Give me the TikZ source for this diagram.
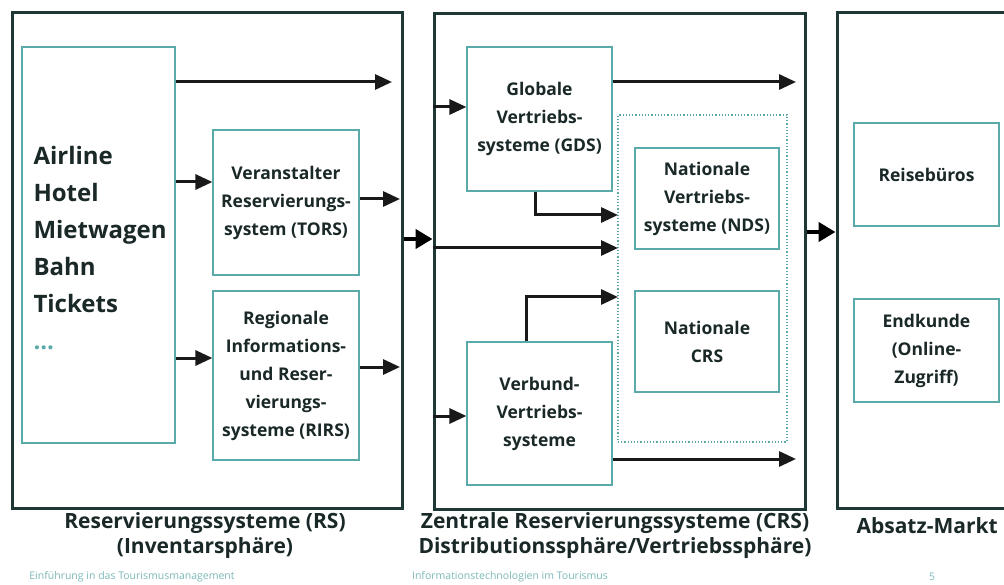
\documentclass[tikz,border=0pt]{standalone}
\usepackage{fontspec}
\setmainfont{Open Sans}
\usetikzlibrary{arrows.meta,calc}
\definecolor{frame}{HTML}{1E3838}
\definecolor{innerc}{HTML}{5AAAAA}
\definecolor{txt}{HTML}{1A2828}
\definecolor{foot}{HTML}{7DB8B8}
\begin{document}
\begin{tikzpicture}[x=1pt,y=-1pt,
  outerbox/.style={draw=frame, line width=3pt, inner sep=0pt},
  innerbox/.style={draw=innerc, line width=1.2pt, align=center, text=txt, inner sep=0pt,
     font=\fontsize{17.5}{28}\selectfont\bfseries},
  dashbox/.style={draw=innerc, line width=1.2pt, dotted, inner sep=0pt},
  arr/.style={draw=black!90, line width=3pt, -{Triangle[length=17pt,width=15pt]}},
  bigarr/.style={draw=black, line width=4.5pt, -{Triangle[length=17pt,width=19pt]}},
  lab/.style={align=center, text=txt, font=\fontsize{21}{25}\selectfont\bfseries},
  foottext/.style={text=foot, font=\fontsize{10.5}{12}\selectfont}]
\useasboundingbox (0,0) rectangle (1004,585);
\clip (0,0) rectangle (1004,585);
\fill[white] (0,0) rectangle (1004,585);

% outer boxes
\node[outerbox, minimum width=390, minimum height=495] (rs) at (207,260.5) {};
\node[outerbox, minimum width=371, minimum height=495] (crs) at (619.5,261.5) {};
\node[outerbox, minimum width=180, minimum height=495] (mkt) at (927,260.5) {};

% RS inner
\node[draw=innerc, line width=1.2pt, minimum width=153, minimum height=396, inner sep=0pt] (air) at (98.5,245) {};
\node[anchor=west, align=left, text=txt, font=\fontsize{24}{37}\selectfont\bfseries] (airtxt) at (30,248)
 {Airline\\Hotel\\Mietwagen\\Bahn\\Tickets\\\textcolor{innerc}{...}};
\node[innerbox, minimum width=146, minimum height=145] (tors) at (286,202.5)
 {Veranstalter\\Reservierungs-\\system (TORS)};
\node[innerbox, minimum width=146, minimum height=169] (rirs) at (286,375.5)
 {Regionale\\Informations-\\und Reser-\\vierungs-\\systeme (RIRS)};

% CRS inner
\node[innerbox, minimum width=145, minimum height=144] (gds) at (539.5,119)
 {Globale\\Vertriebs-\\systeme (GDS)};
\node[dashbox, minimum width=169, minimum height=327] (dash) at (702.5,278.5) {};
\node[innerbox, minimum width=144, minimum height=101] (nds) at (707,198.5)
 {Nationale\\Vertriebs-\\systeme (NDS)};
\node[innerbox, minimum width=144, minimum height=101] (ncrs) at (707,341.5)
 {Nationale\\CRS};
\node[innerbox, minimum width=145, minimum height=143] (vb) at (539.5,413.5)
 {Verbund-\\Vertriebs-\\systeme};

% Market inner
\node[innerbox, minimum width=145, minimum height=103] (reise) at (926.5,174.5) {Reisebüros};
\node[innerbox, minimum width=145, minimum height=103] (endk) at (926.5,350.5)
 {Endkunde\\(Online-\\Zugriff)};

% free ends
\coordinate (e1) at (392,82);
\coordinate (e2) at (400,199);
\coordinate (e3) at (400,367);
\coordinate (g1) at (796,82);
\coordinate (g2) at (796,459);
\coordinate (d1) at (618,215);
\coordinate (d2) at (618,248);
\coordinate (d3) at (618,297);

% RS arrows
\draw[arr] (air.east |- e1) -- (e1);
\draw[arr] (air.east |- 0,182) -- (tors.west |- 0,182);
\draw[arr] (tors.east |- e2) -- (e2);
\draw[arr] (air.east |- 0,358) -- (rirs.west |- 0,358);
\draw[arr] (rirs.east |- e3) -- (e3);

% between columns
\draw[bigarr] (rs.east |- 0,239) -- (crs.west |- 0,239);
\draw[bigarr] (crs.east |- 0,232) -- (mkt.west |- 0,232);

% CRS arrows
\draw[arr] (crs.west |- 0,107) -- (gds.west |- 0,107);
\draw[arr] (crs.west |- d2) -- (d2);
\draw[arr] (crs.west |- 0,416) -- (vb.west |- 0,416);
\draw[arr] (gds.east |- g1) -- (g1);
\draw[arr] ([xshift=-4.5pt]gds.south) |- (d1);
\draw[arr] ([xshift=-13.5pt]vb.north) |- (d3);
\draw[arr] (vb.east |- g2) -- (g2);

% labels
\node[lab] (lrs) at (205,536) {Reservierungssysteme (RS)\\(Inventarsphäre)};
\node[lab] (lcrs) at (615,536) {Zentrale Reservierungssysteme (CRS)\\Distributionssphäre/Vertriebssphäre)};
\node[lab, anchor=west] (lmkt) at (853,526) {Absatz-Markt};

% footer
\node[foottext] (f1) at (132,577) {Einführung in das Tourismusmanagement};
\node[foottext] (f2) at (510,577) {Informationstechnologien im Tourismus};
\node[foottext] (f3) at (932,577) {5};
\end{tikzpicture}
\end{document}
